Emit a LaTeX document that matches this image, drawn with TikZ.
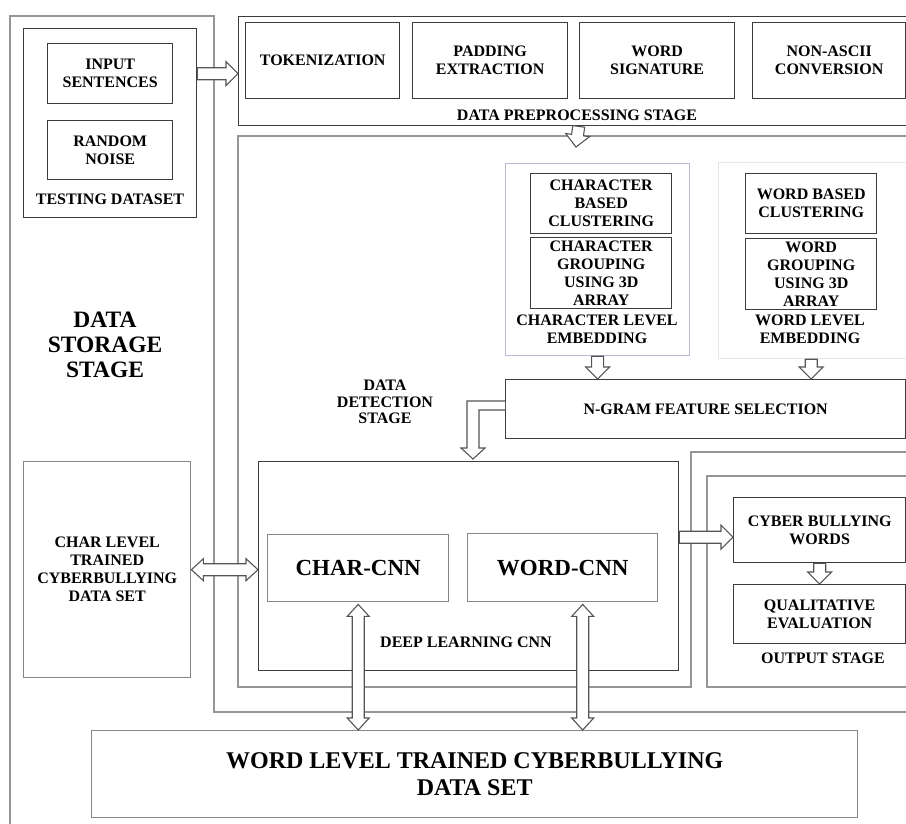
\documentclass[tikz,border=0pt]{standalone}
\usepackage{fontspec}
\setmainfont{Liberation Serif}
\usetikzlibrary{calc}
\definecolor{cFrame}{RGB}{150,150,150}
\definecolor{cBox}{RGB}{60,60,60}
\definecolor{cSoft}{RGB}{135,135,135}
\definecolor{cChar}{RGB}{185,188,210}
\definecolor{cWord}{RGB}{230,230,230}
\definecolor{cArrow}{RGB}{85,85,85}
\newcommand{\boxtxt}{\fontsize{16}{18}\selectfont\bfseries}
\newcommand{\cnntxt}{\fontsize{23}{26}\selectfont\bfseries}
\newcommand{\bigtxt}{\fontsize{24}{27}\selectfont\bfseries}
\newcommand{\stagetxt}{\fontsize{23.5}{25}\selectfont\bfseries}
\tikzset{
  box/.style={draw=cBox, line width=1.4pt, fill=white, anchor=north west,
    align=center, inner sep=0pt, font=\boxtxt},
  softbox/.style={box, draw=cSoft},
  frame/.style={draw=cFrame, line width=1.8pt},
  txt/.style={align=center, inner sep=0pt, font=\boxtxt},
  onaxis/.style={shift={(\p1)}, rotate=\n1},
  hollow/.style={draw=cArrow, line width=1.1pt, fill=white, to path={
    let \p1=(\tikztostart), \p2=(\tikztotarget),
        \n1={atan2(\y2-\y1,\x2-\x1)}, \n2={veclen(\x2-\x1,\y2-\y1)} in
    ([onaxis]0pt,6pt) -- ([onaxis]{\n2-12pt},6pt) -- ([onaxis]{\n2-12pt},12pt)
    -- ([onaxis]\n2,0pt) -- ([onaxis]{\n2-12pt},-12pt) -- ([onaxis]{\n2-12pt},-6pt)
    -- ([onaxis]0pt,-6pt) -- cycle}},
  hollowboth/.style={draw=cArrow, line width=1.1pt, fill=white, to path={
    let \p1=(\tikztostart), \p2=(\tikztotarget),
        \n1={atan2(\y2-\y1,\x2-\x1)}, \n2={veclen(\x2-\x1,\y2-\y1)} in
    ([onaxis]12pt,6pt) -- ([onaxis]{\n2-12pt},6pt) -- ([onaxis]{\n2-12pt},11pt)
    -- ([onaxis]\n2,0pt) -- ([onaxis]{\n2-12pt},-11pt) -- ([onaxis]{\n2-12pt},-6pt)
    -- ([onaxis]12pt,-6pt) -- ([onaxis]12pt,-11pt) -- ([onaxis]0pt,0pt)
    -- ([onaxis]12pt,11pt) -- cycle}},
}

\begin{document}
\begin{tikzpicture}[x=1pt,y=-1pt]
\useasboundingbox (0,0) rectangle (906,823);
\clip (0,0) rectangle (906,823);
% stage frames
\draw[frame] (10,830) -- (10,16) -- (214,16) -- (214,712) -- (915,712);
\draw[frame] (915,136) -- (238,136) -- (238,687) -- (691,687) -- (691,452) -- (915,452);
\draw[frame] (915,476) -- (707,476) -- (707,687) -- (915,687);
\node[txt, font=\stagetxt] (storelbl) at (105,345) {DATA\\STORAGE\\STAGE};
% testing dataset
\node[box, minimum width=173pt, minimum height=189pt] (test) at (23,28) {};
\node[box, minimum width=125pt, minimum height=60pt] (inp) at (47,43) {INPUT\\SENTENCES};
\node[box, minimum width=125pt, minimum height=59pt] (noise) at (47,120) {RANDOM\\NOISE};
\node[txt] (testlbl) at (110,199) {TESTING DATASET};
% preprocessing
\node[box, minimum width=680pt, minimum height=109pt] (pre) at (238,16) {};
\node[box, minimum width=154pt, minimum height=76pt] (tok) at (245,22) {TOKENIZATION};
\node[box, minimum width=155pt, minimum height=76pt] (pad) at (412,22) {PADDING\\EXTRACTION};
\node[box, minimum width=155pt, minimum height=76pt] (sig) at (579,22) {WORD\\SIGNATURE};
\node[box, minimum width=153pt, minimum height=76pt] (asc) at (752,22) {NON-ASCII\\CONVERSION};
\node[txt] (prelbl) at (577,115) {DATA PREPROCESSING STAGE};
% embeddings
\node[box, draw=cChar, line width=1.2pt, minimum width=184pt, minimum height=192pt] (charemb) at (505,163) {};
\node[box, minimum width=141pt, minimum height=60pt] (cbc) at (530,173) {CHARACTER\\BASED\\CLUSTERING};
\node[box, minimum width=141pt, minimum height=71pt] (cgr) at (530,237) {CHARACTER\\GROUPING\\USING 3D\\ARRAY};
\node[txt] (charemblbl) at (597,329) {CHARACTER LEVEL\\EMBEDDING};
\node[box, draw=cWord, line width=1.2pt, minimum width=200pt, minimum height=196pt] (wordemb) at (718,162) {};
\node[box, minimum width=131pt, minimum height=60pt] (wbc) at (745,173) {WORD BASED\\CLUSTERING};
\node[box, minimum width=131pt, minimum height=71pt] (wgr) at (745,238) {WORD\\GROUPING\\USING 3D\\ARRAY};
\node[txt] (wordemblbl) at (810,329) {WORD LEVEL\\EMBEDDING};
\node[box, minimum width=400pt, minimum height=59pt] (ngram) at (505,379) {N-GRAM FEATURE SELECTION};
\node[txt, font=\fontsize{16}{16.5}\selectfont\bfseries] (detlbl) at (385,402) {DATA\\DETECTION\\STAGE};
% deep learning
\node[box, minimum width=420pt, minimum height=209pt] (dl) at (258,461) {};
\node[softbox, font=\cnntxt, minimum width=181pt, minimum height=67pt] (charcnn) at (267,534) {CHAR-CNN};
\node[softbox, font=\cnntxt, minimum width=190pt, minimum height=68pt] (wordcnn) at (467,533) {WORD-CNN};
\node[txt] (dllbl) at (466,642) {DEEP LEARNING CNN};
\node[softbox, minimum width=167pt, minimum height=216pt] (charset) at (23,461) {CHAR LEVEL\\TRAINED\\CYBERBULLYING\\DATA SET};
\node[softbox, font=\bigtxt, minimum width=766pt, minimum height=87pt] (bottom) at (91,730) {WORD LEVEL TRAINED CYBERBULLYING\\DATA SET};
% output
\node[box, minimum width=172pt, minimum height=65pt] (cyber) at (733,497) {CYBER BULLYING\\WORDS};
\node[box, minimum width=172pt, minimum height=59pt] (qual) at (733,584) {QUALITATIVE\\EVALUATION};
\node[txt] (outlbl) at (823,658) {OUTPUT STAGE};
% block arrows
\coordinate (detin) at (576,147);
\coordinate (wdown) at ($(wordcnn.south)+(20,2)$);
\coordinate (cbin) at ($(cyber.west)+(0,7)$);
\draw[hollow] (test.east |- inp.east) to (pre.west |- inp.east);
\draw[hollow] (pre.south) to (detin);
\draw[hollow] (charemb.south) to (charemb.south |- ngram.north);
\draw[hollow] (wgr.south |- wordemb.south) to (wgr.south |- ngram.north);
\draw[draw=cArrow, line width=1.1pt, fill=white] (ngram.west |- 0,401) -- (467,401) -- (467,448)
  -- (461,448) -- (473,459) -- (485,448) -- (479,448) -- (479,410) -- (ngram.west |- 0,410);
\draw[hollowboth] (charset.east) to (charset.east -| dl.west);
\draw[hollowboth] ([yshift=-2pt]charcnn.south) to (charcnn.south |- bottom.north);
\draw[hollowboth] (wdown) to (wdown |- bottom.north);
\draw[hollow] (dl.east |- cbin) to (cbin);
\draw[hollow] (cyber.south) to (qual.north);
\end{tikzpicture}
\end{document}
